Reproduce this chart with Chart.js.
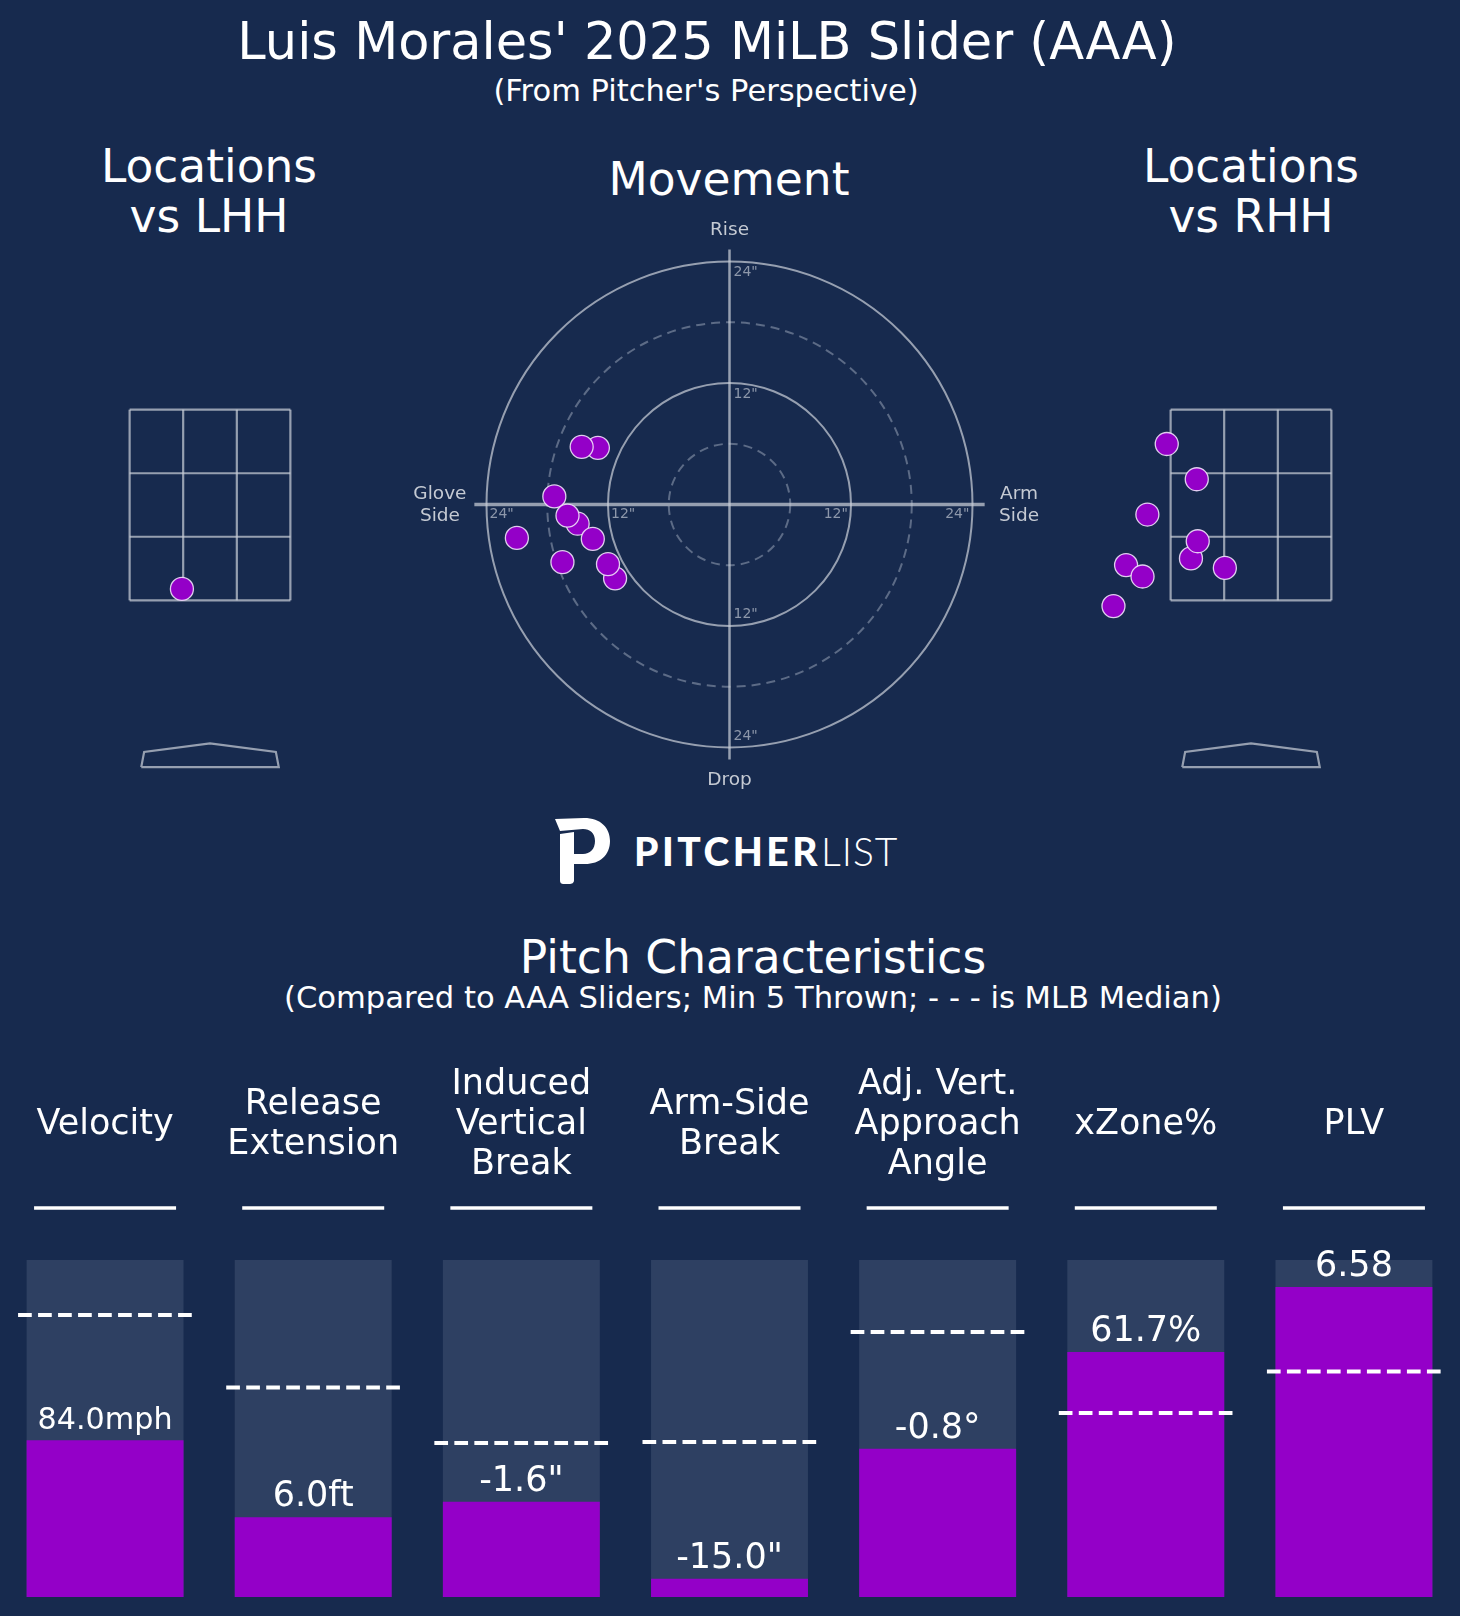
<!DOCTYPE html>
<html>
<head>
<meta charset="utf-8">
<script src="https://cdn.jsdelivr.net/npm/chart.js@4.4.1/dist/chart.umd.min.js"></script>
<style>
  html, body { margin: 0; padding: 0; background: #172a4e; }
  #page { position: relative; width: 1460px; height: 1616px; overflow: hidden; background: #172a4e;
          font-family: 'DejaVu Sans', sans-serif; color: #ffffff; }
  .txt { position: absolute; transform: translate(-50%, -50%); white-space: nowrap; text-align: center; line-height: 1; }
  canvas { position: absolute; }
  #logo { position: absolute; left: 554px; top: 818px; }
  #logo-text { position: absolute; left: 634px; top: 832px; font-family: 'Lato', sans-serif; font-size: 39px; line-height: 1; white-space: nowrap; }
  #logo-text b { font-weight: 900; letter-spacing: 3.5px; }
  #logo-text span { font-weight: 300; letter-spacing: 1px; }
</style>
</head>
<body>
<div id="page">
  <div class="txt" style="left:707px; top:41px; font-size:51px;">Luis Morales' 2025 MiLB Slider (AAA)</div>
  <div class="txt" style="left:706px; top:91px; font-size:30.5px;">(From Pitcher's Perspective)</div>

  <div class="txt" style="left:209px; top:192px; font-size:45.5px; line-height:50px;">Locations<br>vs LHH</div>
  <div class="txt" style="left:729px; top:180px; font-size:45.5px;">Movement</div>
  <div class="txt" style="left:1251px; top:192px; font-size:45.5px; line-height:50px;">Locations<br>vs RHH</div>

  <canvas id="lhh-chart" width="368" height="429" style="left:26px; top:362px;"></canvas>
  <canvas id="move-chart" width="729" height="607" style="left:365px; top:201px;"></canvas>
  <canvas id="rhh-chart" width="368" height="429" style="left:1067px; top:362px;"></canvas>

  <svg id="logo" width="56" height="66" viewBox="0 0 56 66">
    <path fill="#ffffff" d="M1,1 L30,0 C47,0 56,10 56,23 C56,37 46,46 31,46 L20,46 L20,36 L29,36 C36,36 41,31 41,23 C41,15 36,11 29,11 L6,13 Z"/>
    <path fill="#ffffff" d="M6,16 L20,14 L20,62 C20,65 18,66 15,66 L10,66 C7,66 6,65 6,62 Z"/>
  </svg>
  <div id="logo-text"><b>PITCHER</b><span>LIST</span></div>

  <div class="txt" style="left:753px; top:958px; font-size:45.6px;">Pitch Characteristics</div>
  <div class="txt" style="left:753px; top:998px; font-size:30.6px;">(Compared to AAA Sliders; Min 5 Thrown; - - - is MLB Median)</div>

  <canvas id="bar-chart" width="1460" height="576" style="left:0px; top:1040px;"></canvas>
</div>

<script>
// Movement (inches, pitcher's view: negative = glove side)
const hBreak = [-13.0, -14.6, -17.3, -15.0, -16.0, -13.5, -21.0, -16.5, -11.3, -12.0];
const ivb    = [  5.6,   5.7,   0.8,  -1.9,  -1.1,  -3.4,  -3.3,  -5.7,  -7.3,  -5.9];

// Locations (feet)
const lhhX = [-0.29];
const lhhZ = [1.62];
const rhhX = [-0.87, -0.56, -1.07, -0.62, -0.55, -0.27, -1.29, -1.12, -1.42];
const rhhZ = [ 3.14,  2.77,  2.40,  1.94,  2.12,  1.84,  1.87,  1.75,  1.44];

// Strike zone / plate outline (feet)
const zoneX = [-0.83, -0.277, 0.277, 0.83];
const zoneZ = [1.5, 2.167, 2.833, 3.5];
const plateX = [-0.71, -0.68, 0, 0.68, 0.71, -0.71];
const plateZ = [-0.25, -0.09, 0, -0.09, -0.25, -0.25];

// Movement rings
const ringRadii = [6, 12, 18, 24];
const ringDashed = [true, false, true, false];
const ringTicks = [12, 24];

// Pitch characteristics
const categories = [['Velocity'], ['Release', 'Extension'], ['Induced', 'Vertical', 'Break'],
  ['Arm-Side', 'Break'], ['Adj. Vert.', 'Approach', 'Angle'], ['xZone%'], ['PLV']];
const percentiles = [46.5, 23.7, 28.3, 5.4, 44.0, 72.7, 92.0];
const medianPct   = [83.7, 62.2, 45.7, 46.0, 78.6, 54.6, 66.9];
const valueLabels = ['84.0mph', '6.0ft', '-1.6"', '-15.0"', '-0.8°', '61.7%', '6.58'];

const PURPLE = '#9400c8';
const PT_EDGE = 'rgba(240,225,250,0.9)';
const GUIDE = 'rgba(200,205,215,0.72)';
const FONT = "'DejaVu Sans', sans-serif";

const toPts = (xs, ys) => xs.map((v, i) => ({ x: v, y: ys[i] }));

const pointDataset = (data) => ({
  data,
  backgroundColor: PURPLE,
  borderColor: PT_EDGE,
  borderWidth: 1.3,
  pointRadius: 11.5,
  pointHoverRadius: 11.5
});

const hiddenScales = (xr, yr) => ({
  x: { type: 'linear', min: xr[0], max: xr[1], display: false },
  y: { type: 'linear', min: yr[0], max: yr[1], display: false }
});

const baseOpts = {
  responsive: false,
  animation: false,
  layout: { padding: 0, autoPadding: false },
  plugins: { legend: { display: false }, tooltip: { enabled: false } }
};

// strike zone + plate
const zonePlugin = {
  id: 'zone',
  beforeDatasetsDraw(chart) {
    const { ctx, scales: { x, y } } = chart;
    ctx.save();
    ctx.strokeStyle = GUIDE;
    ctx.lineWidth = 2.2;
    zoneX.forEach(v => {
      ctx.beginPath();
      ctx.moveTo(x.getPixelForValue(v), y.getPixelForValue(zoneZ[0]));
      ctx.lineTo(x.getPixelForValue(v), y.getPixelForValue(zoneZ[3]));
      ctx.stroke();
    });
    zoneZ.forEach(v => {
      ctx.beginPath();
      ctx.moveTo(x.getPixelForValue(zoneX[0]), y.getPixelForValue(v));
      ctx.lineTo(x.getPixelForValue(zoneX[3]), y.getPixelForValue(v));
      ctx.stroke();
    });
    ctx.beginPath();
    plateX.forEach((v, i) => {
      const px = x.getPixelForValue(v), py = y.getPixelForValue(plateZ[i]);
      i ? ctx.lineTo(px, py) : ctx.moveTo(px, py);
    });
    ctx.stroke();
    ctx.restore();
  }
};

// rings, axes and labels for movement plot
const movePlugin = {
  id: 'moveGuides',
  beforeDatasetsDraw(chart) {
    const { ctx, scales: { x, y } } = chart;
    const cx = x.getPixelForValue(0), cy = y.getPixelForValue(0);
    const ppi = x.getPixelForValue(1) - cx;
    ctx.save();
    ringRadii.forEach((r, i) => {
      ctx.setLineDash(ringDashed[i] ? [9, 6] : []);
      ctx.strokeStyle = ringDashed[i] ? 'rgba(150,160,180,0.55)' : GUIDE;
      ctx.lineWidth = 2;
      ctx.beginPath();
      ctx.arc(cx, cy, r * ppi, 0, Math.PI * 2);
      ctx.stroke();
    });
    ctx.setLineDash([]);
    ctx.strokeStyle = GUIDE;
    ctx.lineWidth = 3.5;
    ctx.beginPath();
    ctx.moveTo(x.getPixelForValue(-25.2), cy);
    ctx.lineTo(x.getPixelForValue(25.2), cy);
    ctx.stroke();
    ctx.lineWidth = 2.5;
    ctx.beginPath();
    ctx.moveTo(cx, y.getPixelForValue(25.2));
    ctx.lineTo(cx, y.getPixelForValue(-25.2));
    ctx.stroke();

    // ring ticks
    ctx.fillStyle = '#8d97aa';
    ctx.font = '14px ' + FONT;
    ctx.textBaseline = 'middle';
    ringTicks.forEach(r => {
      const t = r + '"';
      ctx.textAlign = 'left';
      ctx.fillText(t, x.getPixelForValue(0.4), y.getPixelForValue(r - 1.1));
      ctx.fillText(t, x.getPixelForValue(0.4), y.getPixelForValue(-r + 1.1));
      ctx.fillText(t, x.getPixelForValue(-r + 0.3), y.getPixelForValue(-1.0));
      ctx.textAlign = 'right';
      ctx.fillText(t, x.getPixelForValue(r - 0.3), y.getPixelForValue(-1.0));
    });

    // direction labels
    ctx.fillStyle = '#c5cad3';
    ctx.font = '18.5px ' + FONT;
    ctx.textAlign = 'center';
    ctx.fillText('Rise', cx, y.getPixelForValue(27.1));
    ctx.fillText('Drop', cx, y.getPixelForValue(-27.3));
    ctx.fillText('Glove', x.getPixelForValue(-28.6), y.getPixelForValue(1.05));
    ctx.fillText('Side', x.getPixelForValue(-28.6), y.getPixelForValue(-1.15));
    ctx.fillText('Arm', x.getPixelForValue(28.6), y.getPixelForValue(1.05));
    ctx.fillText('Side', x.getPixelForValue(28.6), y.getPixelForValue(-1.15));
    ctx.restore();
  }
};

new Chart(document.getElementById('lhh-chart'), {
  type: 'scatter',
  data: { datasets: [pointDataset(toPts(lhhX, lhhZ))] },
  options: { ...baseOpts, scales: hiddenScales([-1.9, 1.9], [-0.5, 4.0]) },
  plugins: [zonePlugin]
});

new Chart(document.getElementById('rhh-chart'), {
  type: 'scatter',
  data: { datasets: [pointDataset(toPts(rhhX, rhhZ))] },
  options: { ...baseOpts, scales: hiddenScales([-1.9, 1.9], [-0.5, 4.0]) },
  plugins: [zonePlugin]
});

new Chart(document.getElementById('move-chart'), {
  type: 'scatter',
  data: { datasets: [pointDataset(toPts(hBreak, ivb))] },
  options: { ...baseOpts, scales: hiddenScales([-36, 36], [-30, 30]) },
  plugins: [movePlugin]
});

// Titles, underlines, medians and value labels for the bars
const barDecor = {
  id: 'barDecor',
  afterDatasetsDraw(chart) {
    const { ctx, chartArea, scales: { y } } = chart;
    const meta = chart.getDatasetMeta(0);
    ctx.save();
    meta.data.forEach((bar, i) => {
      const bx = bar.x, bw = bar.width;

      // median line
      ctx.strokeStyle = '#ffffff';
      ctx.lineWidth = 4;
      ctx.setLineDash([13.7, 6.3]);
      const my = y.getPixelForValue(medianPct[i]);
      ctx.beginPath();
      ctx.moveTo(bx - 87, my);
      ctx.lineTo(bx + 87, my);
      ctx.stroke();
      ctx.setLineDash([]);

      // value label
      let size = 35;
      ctx.font = size + 'px ' + FONT;
      const w = ctx.measureText(valueLabels[i]).width;
      if (w > bw * 0.86) {
        size = size * bw * 0.86 / w;
        ctx.font = size + 'px ' + FONT;
      }
      ctx.fillStyle = '#ffffff';
      ctx.textAlign = 'center';
      ctx.textBaseline = 'alphabetic';
      ctx.fillText(valueLabels[i], bx, bar.y - 11);

      // header
      ctx.font = '35px ' + FONT;
      ctx.textBaseline = 'middle';
      const lines = categories[i];
      const lh = 40;
      const cy = chartArea.top - 135;
      lines.forEach((t, k) => {
        ctx.fillText(t, bx, cy + (k - (lines.length - 1) / 2) * lh);
      });
      ctx.lineWidth = 3.6;
      ctx.beginPath();
      ctx.moveTo(bx - 71, chartArea.top - 52);
      ctx.lineTo(bx + 71, chartArea.top - 52);
      ctx.stroke();
    });
    ctx.restore();
  }
};

new Chart(document.getElementById('bar-chart'), {
  type: 'bar',
  data: {
    labels: categories,
    datasets: [
      {
        data: percentiles,
        backgroundColor: PURPLE,
        order: 0,
        grouped: false,
        categoryPercentage: 1,
        barPercentage: 0.754
      },
      {
        data: categories.map(() => 100),
        backgroundColor: '#2e4062',
        order: 1,
        grouped: false,
        categoryPercentage: 1,
        barPercentage: 0.754
      }
    ]
  },
  options: {
    ...baseOpts,
    layout: { padding: { top: 220, bottom: 19, left: 1, right: 2 }, autoPadding: false },
    scales: {
      x: { display: false, offset: true },
      y: { display: false, min: 0, max: 100 }
    }
  },
  plugins: [barDecor]
});
</script>
</body>
</html>
